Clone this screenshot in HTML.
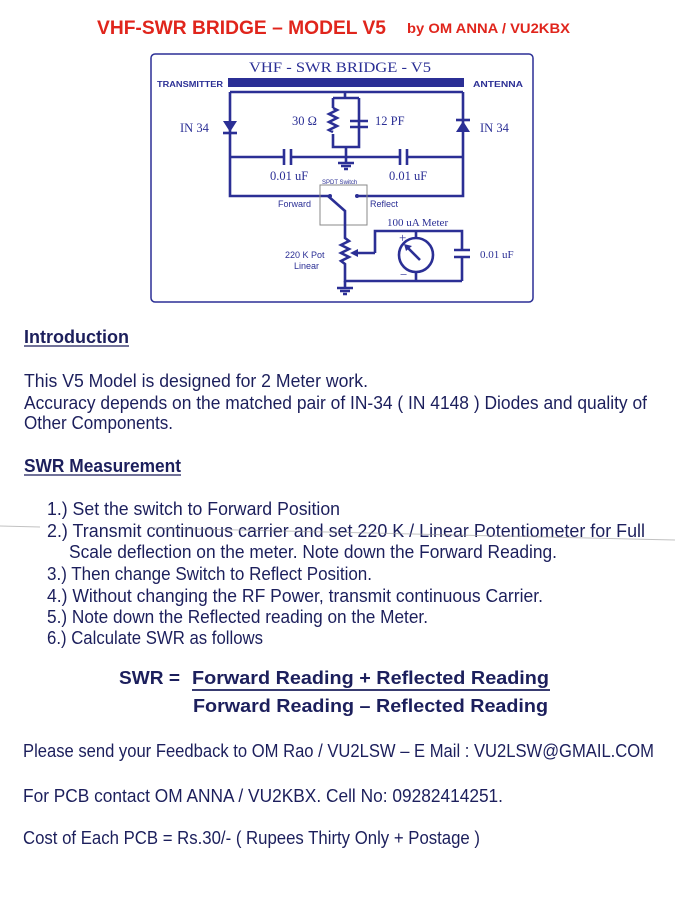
<!DOCTYPE html>
<html><head><meta charset="utf-8"><style>
html,body{margin:0;padding:0;background:#fff;}
svg{display:block}
.t{font-family:"Liberation Sans",sans-serif;fill:#1c1f5c;font-size:18px}
.b{font-weight:bold}
.s{font-family:"Liberation Sans",sans-serif;fill:#2b2f95;font-weight:bold}
.w{stroke:#2b2f95;stroke-width:2.6;fill:none}
.d{fill:#2b2f95}
</style></head><body>
<svg width="675" height="900" viewBox="0 0 675 900" xmlns="http://www.w3.org/2000/svg">
<rect width="675" height="900" fill="#fff"/>
<text x="97" y="34" font-family="Liberation Sans,sans-serif" font-weight="bold" font-size="19" fill="#e0251c" textLength="289" lengthAdjust="spacingAndGlyphs">VHF-SWR  BRIDGE – MODEL V5</text>
<text x="407" y="33" font-family="Liberation Sans,sans-serif" font-weight="bold" font-size="14" fill="#e0251c" textLength="163" lengthAdjust="spacingAndGlyphs">by OM ANNA / VU2KBX</text>

<rect x="151" y="54" width="382" height="248" rx="4" fill="none" stroke="#2b2f95" stroke-width="1.5"/>
<text x="340" y="72" text-anchor="middle" font-family="Liberation Serif,serif" font-size="15" fill="#2b2f95" textLength="182" lengthAdjust="spacingAndGlyphs">VHF - SWR BRIDGE - V5</text>
<rect x="228" y="78" width="236" height="9" fill="#2b2f95"/>
<text class="s" x="157" y="87" font-size="8" textLength="66" lengthAdjust="spacingAndGlyphs">TRANSMITTER</text>
<text class="s" x="473" y="87" font-size="8" textLength="50" lengthAdjust="spacingAndGlyphs">ANTENNA</text>
<path class="w" d="M230 92 H463 M230 92 V196 H330 M463 92 V196 H357"/>
<path class="w" d="M345 92 V98 M333 98 H359 M333 98 V108 M333 134 V147 H359 V98 M346 147 V157 M359 98 V121 M359 127 V147"/>
<path class="w" d="M230 157 H284 M291 157 H400 M407 157 H463"/>
<path class="w" d="M284 149 V165 M291 149 V165 M400 149 V165 M407 149 V165"/>
<path class="w" d="M350 121 H368 M350 127 H368"/>
<path class="w" d="M333 108 l4 2 l-8 4 l8 4 l-8 4 l8 4 l-8 4 l4 2" stroke-width="2"/>
<path class="w" d="M346 157 V163 M338 163 H354 M341 166 H351 M344 169 H348"/>
<path class="d" d="M223 121 H237 L230 132 Z"/><path class="w" d="M223 133 H237"/>
<path class="d" d="M456 132 H470 L463 121 Z"/><path class="w" d="M456 120 H470"/>
<rect x="320" y="185" width="47" height="40" fill="none" stroke="#888" stroke-width="1"/>
<path class="w" d="M328 196 L345 211 V233"/>
<circle class="d" cx="330" cy="196" r="2"/><circle class="d" cx="357" cy="196" r="2"/>
<path class="w" d="M345 233 V238 l4 3 l-8 4 l8 4 l-8 4 l8 4 l-8 4 l4 3 V281 H462"/>
<path class="w" d="M375 253 H356 M375 253 V231 H462 V250 M462 257 V281"/>
<path class="d" d="M350 253 L358 249 L358 257 Z"/>
<path class="w" d="M345 281 V288 M337 288 H353 M340 291 H350 M343 294 H347"/>
<circle cx="416" cy="255" r="17" fill="#fff" stroke="#2b2f95" stroke-width="2.6"/>
<path class="w" d="M416 231 V238 M416 272 V281 M420 260 L407 247"/>
<path class="d" d="M404 244 L412 246 L406 251 Z"/>
<path class="w" d="M454 250 H470 M454 257 H470"/>
<g font-family="Liberation Serif,serif" font-size="12.5" fill="#2b2f95">
<text x="180" y="132">IN 34</text><text x="480" y="132">IN 34</text>
<text x="292" y="125">30 Ω</text><text x="375" y="125">12 PF</text>
<text x="270" y="180">0.01 uF</text><text x="389" y="180">0.01 uF</text>
<text x="387" y="226" font-size="11">100 uA Meter</text>
<text x="480" y="258" font-size="11">0.01 uF</text>
<text x="399" y="242" font-size="13">+</text><text x="400" y="279" font-size="13">−</text>
</g>
<g font-family="Liberation Sans,sans-serif" font-size="9" fill="#2b2f95">
<text x="278" y="207">Forward</text><text x="370" y="207">Reflect</text>
<text x="322" y="184" font-size="6">SPDT Switch</text>
<text x="285" y="258">220 K Pot</text><text x="294" y="269">Linear</text>
</g>

<text class="t b" x="24" y="343" textLength="105" lengthAdjust="spacingAndGlyphs">Introduction</text>
<line x1="24" y1="346" x2="129" y2="346" stroke="#1c1f5c" stroke-width="1.3"/>
<text class="t" x="24" y="387" textLength="344" lengthAdjust="spacingAndGlyphs">This  V5 Model is designed for 2 Meter work.</text>
<text class="t" x="24" y="409" textLength="623" lengthAdjust="spacingAndGlyphs">Accuracy depends on the matched pair of IN-34 ( IN 4148 ) Diodes and quality of</text>
<text class="t" x="24" y="429" textLength="149" lengthAdjust="spacingAndGlyphs">Other Components.</text>
<text class="t b" x="24" y="472" textLength="157" lengthAdjust="spacingAndGlyphs">SWR Measurement</text>
<line x1="24" y1="475" x2="181" y2="475" stroke="#1c1f5c" stroke-width="1.3"/>
<text class="t" x="47" y="515" textLength="293" lengthAdjust="spacingAndGlyphs">1.)  Set the switch to Forward Position</text>
<text class="t" x="47" y="537" textLength="598" lengthAdjust="spacingAndGlyphs">2.) Transmit continuous carrier and set  220 K / Linear Potentiometer for Full</text>
<text class="t" x="69" y="558" textLength="488" lengthAdjust="spacingAndGlyphs">Scale deflection on the meter. Note down the Forward Reading.</text>
<text class="t" x="47" y="580" textLength="325" lengthAdjust="spacingAndGlyphs">3.) Then change Switch to Reflect Position.</text>
<text class="t" x="47" y="602" textLength="496" lengthAdjust="spacingAndGlyphs">4.) Without changing the RF Power, transmit continuous Carrier.</text>
<text class="t" x="47" y="623" textLength="381" lengthAdjust="spacingAndGlyphs">5.) Note down the Reflected reading on the Meter.</text>
<text class="t" x="47" y="644" textLength="216" lengthAdjust="spacingAndGlyphs">6.) Calculate SWR as follows</text>
<path d="M0 526 L40 527 M150 528 L675 540" stroke="#999" stroke-width="1" opacity="0.6"/>
<text class="t b" x="119" y="684" font-size="20" textLength="61" lengthAdjust="spacingAndGlyphs">SWR =</text>
<text class="t b" x="192" y="684" font-size="20" textLength="357" lengthAdjust="spacingAndGlyphs">Forward Reading + Reflected Reading</text>
<line x1="192" y1="690" x2="550" y2="690" stroke="#1c1f5c" stroke-width="1.8"/>
<text class="t b" x="193" y="712" font-size="20" textLength="355" lengthAdjust="spacingAndGlyphs">Forward Reading – Reflected Reading</text>
<text class="t" x="23" y="757" textLength="631" lengthAdjust="spacingAndGlyphs">Please send your Feedback to OM Rao / VU2LSW – E Mail : VU2LSW@GMAIL.COM</text>
<text class="t" x="23" y="802" textLength="480" lengthAdjust="spacingAndGlyphs">For PCB contact OM ANNA / VU2KBX.   Cell No: 09282414251.</text>
<text class="t" x="23" y="844" textLength="457" lengthAdjust="spacingAndGlyphs">Cost of Each PCB = Rs.30/- ( Rupees Thirty Only + Postage )</text>
</svg>
</body></html>
